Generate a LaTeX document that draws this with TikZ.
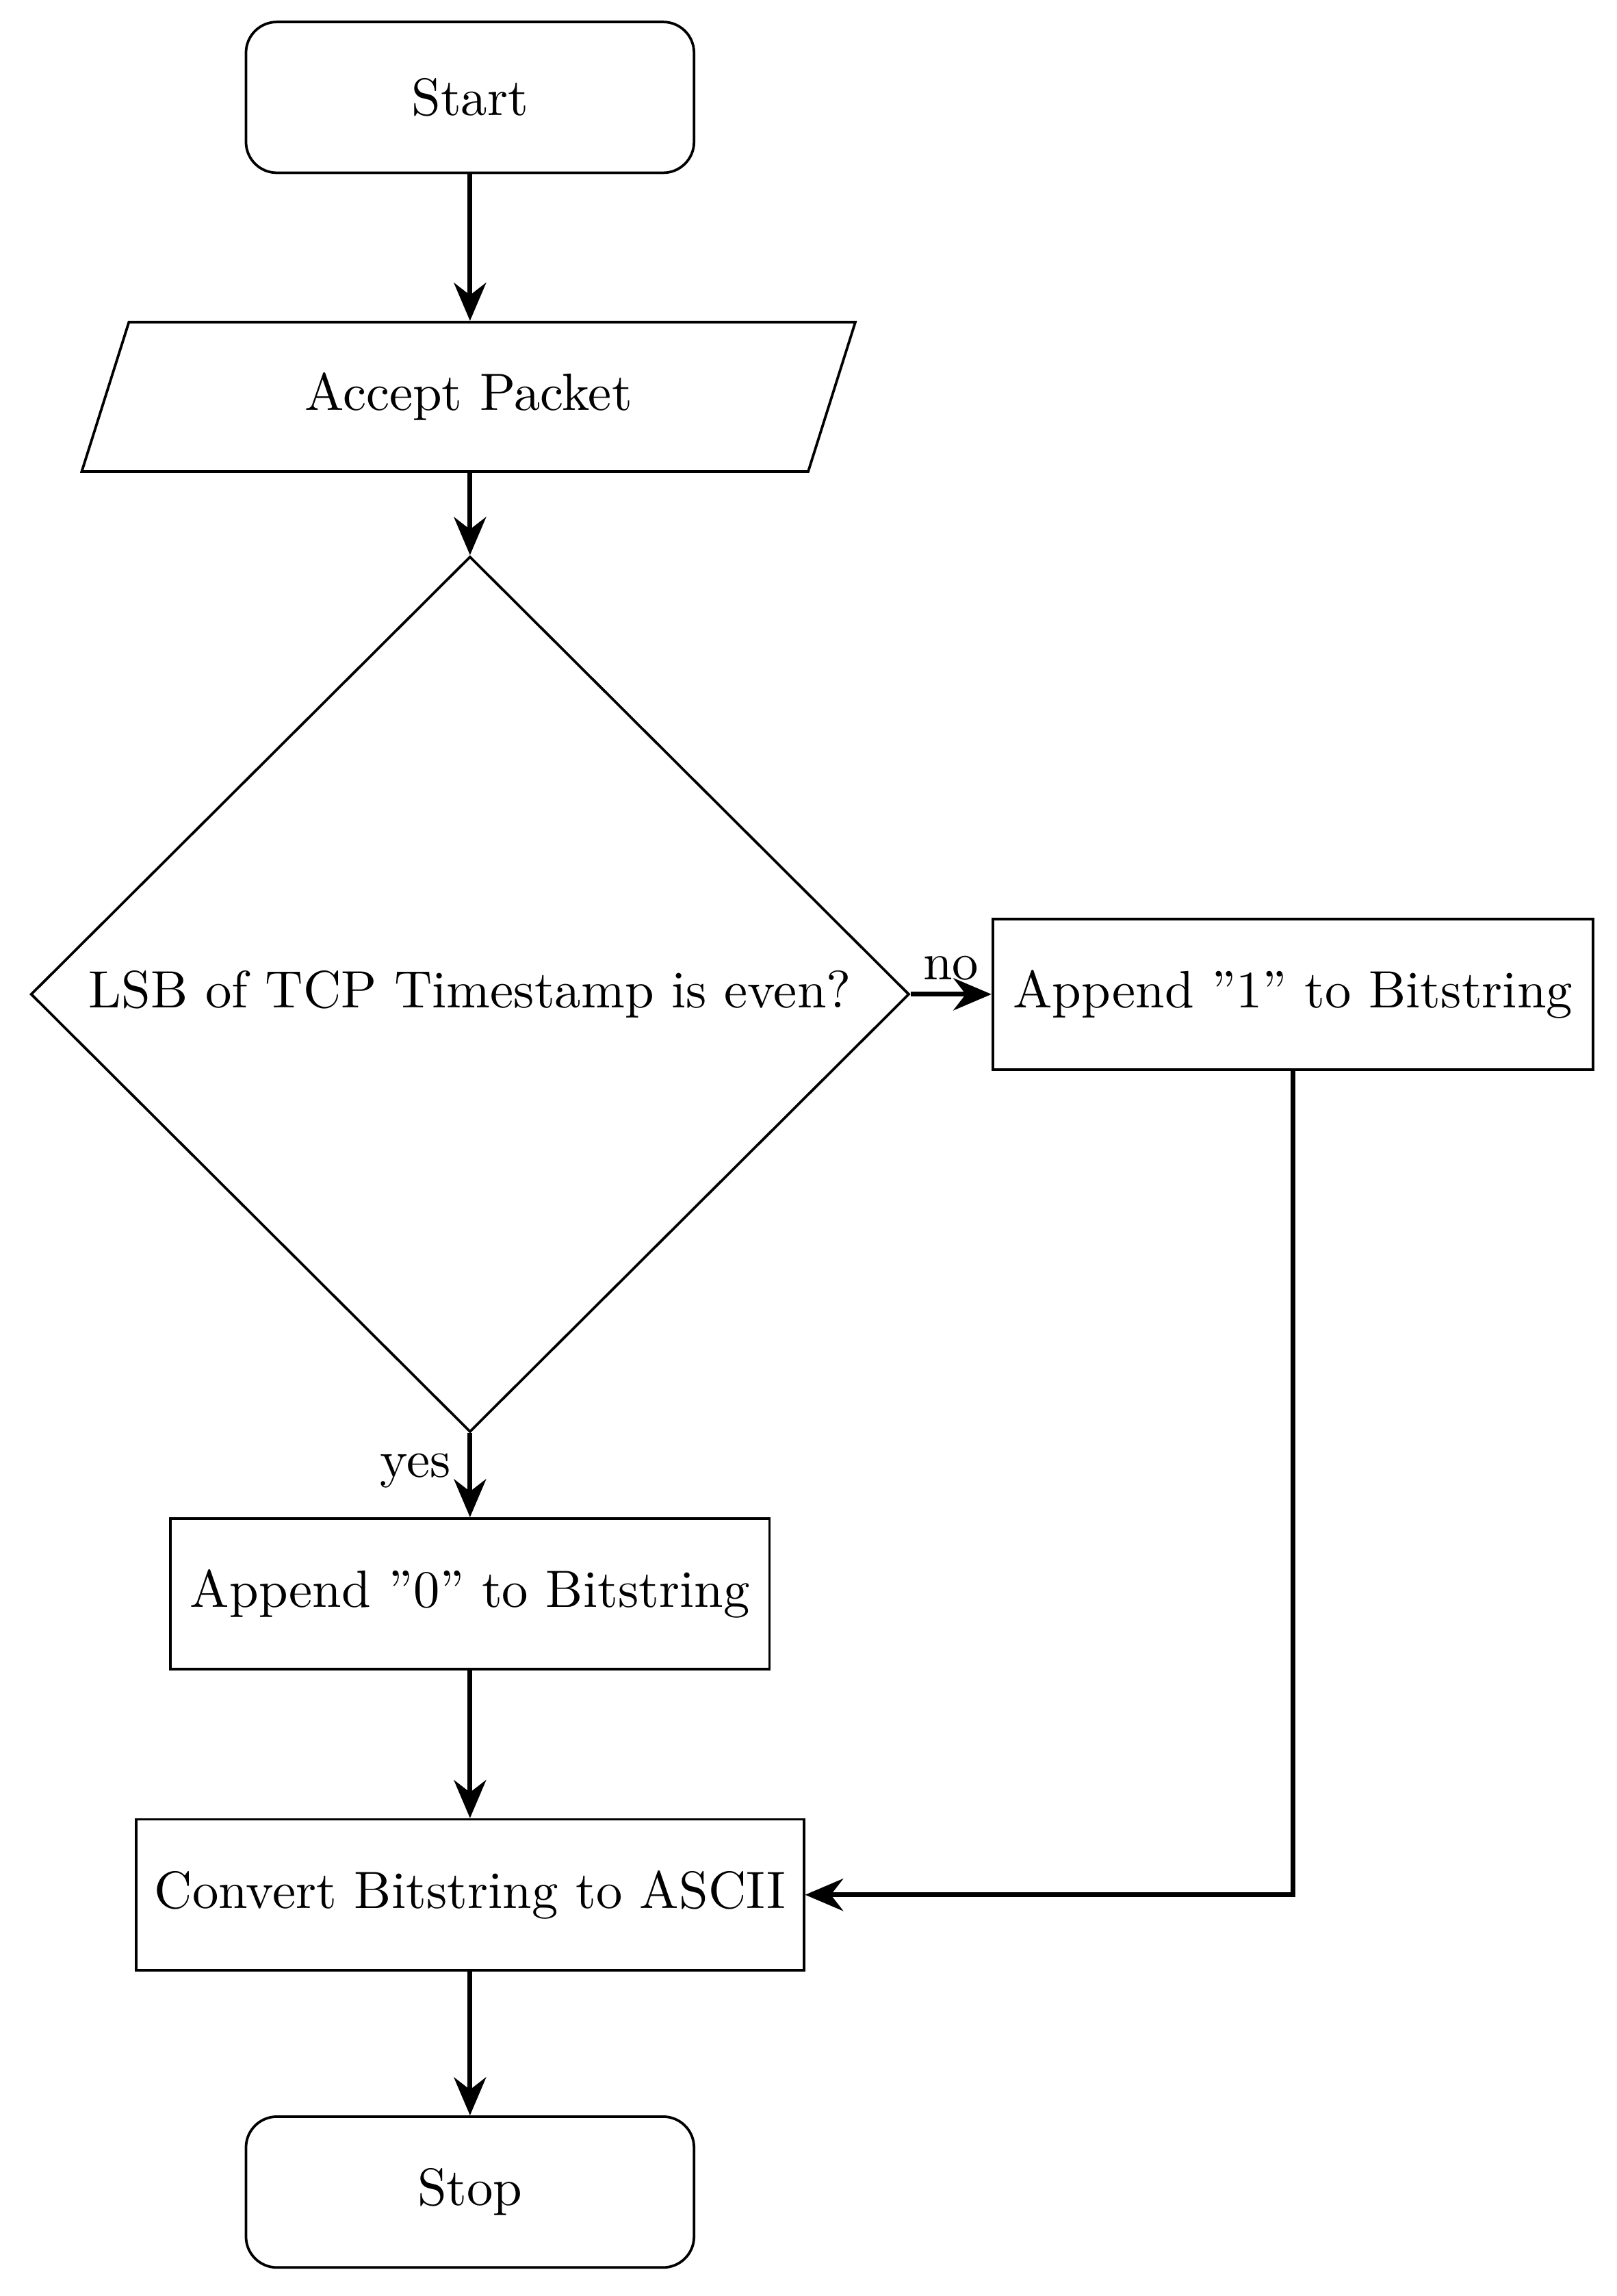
\documentclass[tikz,border=0pt]{standalone}
\usepackage{tikz}
\usetikzlibrary{arrows.meta,positioning,shapes.geometric}
\tikzset{
  term/.style={rectangle, rounded corners=6pt, draw=black, line width=0.5pt, minimum width=3.06cm, minimum height=1.03cm, align=center},
  io/.style={trapezium, trapezium left angle=73, trapezium right angle=107, trapezium stretches=true, draw=black, line width=0.5pt, minimum width=5.3cm, minimum height=1.02cm, align=center},
  decide/.style={diamond, draw=black, line width=0.5pt, minimum width=6cm, minimum height=5.98cm, inner sep=1pt, align=center},
  proc/.style={rectangle, draw=black, line width=0.5pt, minimum height=1.03cm, align=center},
  flow/.style={-{Stealth[length=2.6mm,width=2.2mm]}, line width=0.9pt},
}
\begin{document}
\begin{tikzpicture}[font=\fontsize{10.2}{12}\selectfont]
  \useasboundingbox (0,0) rectangle (11.04,-15.68);
  % start and input
  \node[term](start) at (3.21,-0.665){Start};
  \node[io,minimum width=5.33cm](accept) at (3.2,-2.71){Accept Packet};
  % decision
  \node[decide](even) at (3.21,-6.79){LSB of TCP Timestamp is even?};
  \node[proc,minimum width=4.1cm](one) at (8.83,-6.79){Append "1" to Bitstring};
  \node[proc,minimum width=4.09cm](zero) at (3.21,-10.885){Append "0" to Bitstring};
  % output
  \node[proc,minimum width=4.56cm](conv) at (3.21,-12.94){Convert Bitstring to ASCII};
  \node[term](stop) at (3.21,-14.97){Stop};
  % arrows
  \draw[flow] (start) -- (accept.north -| start);
  \draw[flow] (accept.south -| even) -- (even);
  \draw[flow] (even.east) -- node[above,pos=0.5,yshift=-1pt]{no} (one.west);
  \draw[flow] (even.south) -- node[left,pos=0.45]{yes} (zero.north);
  \draw[flow] (zero) -- (conv);
  \draw[flow] (one.south) |- (conv.east);
  \draw[flow] (conv) -- (stop);
\end{tikzpicture}
\end{document}
